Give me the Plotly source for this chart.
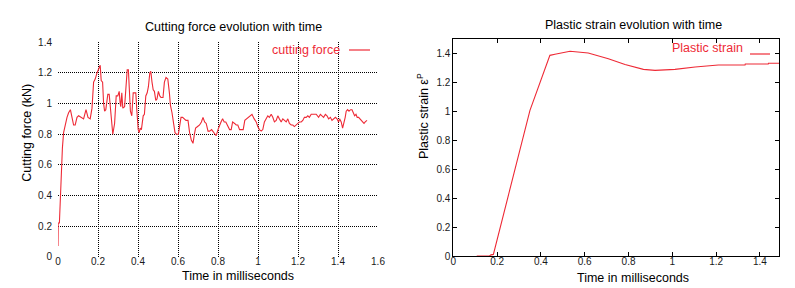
import plotly.graph_objects as go

# ---------------- data ----------------
force_t = [0, 0.001, 0.007, 0.012, 0.017, 0.022, 0.028, 0.037, 0.045, 0.053, 0.062, 0.070, 0.078, 0.086,
           0.095, 0.103, 0.116, 0.128, 0.140, 0.150, 0.161, 0.170, 0.178, 0.186, 0.195, 0.203, 0.211, 0.216,
           0.223, 0.228, 0.233, 0.239, 0.249, 0.256, 0.263, 0.269, 0.274, 0.283, 0.291, 0.299, 0.306, 0.311,
           0.314, 0.319, 0.324, 0.333, 0.341, 0.346, 0.352, 0.357, 0.362, 0.369, 0.376, 0.382, 0.389, 0.394,
           0.401, 0.406, 0.411, 0.417, 0.426, 0.432, 0.439, 0.446, 0.452, 0.459, 0.464, 0.470, 0.476, 0.482,
           0.489, 0.495, 0.502, 0.509, 0.515, 0.525, 0.532, 0.540, 0.549, 0.557, 0.562, 0.570, 0.579, 0.585,
           0.592, 0.602, 0.608, 0.615, 0.623, 0.632, 0.640,
           0.650, 0.658, 0.667, 0.675, 0.682, 0.688, 0.698, 0.708, 0.717, 0.725, 0.733, 0.741, 0.750, 0.758,
           0.768, 0.775, 0.785, 0.791, 0.800, 0.808, 0.815, 0.823, 0.831, 0.839, 0.849, 0.858, 0.866, 0.873,
           0.883, 0.891, 0.899, 0.908, 0.918, 0.926, 0.934, 0.944, 0.954, 0.962, 0.970,
           0.981, 0.991, 0.999, 1.007, 1.016, 1.024, 1.032, 1.041, 1.049, 1.057, 1.066, 1.074, 1.082, 1.091,
           1.099, 1.107, 1.116, 1.124, 1.132, 1.141, 1.149, 1.157, 1.166, 1.174, 1.182, 1.191, 1.199, 1.207,
           1.216, 1.224, 1.232, 1.241, 1.249, 1.257, 1.266, 1.274, 1.291,
           1.303, 1.312, 1.320, 1.328, 1.337, 1.345, 1.353, 1.362, 1.370, 1.378, 1.387, 1.395, 1.403, 1.408,
           1.416, 1.423, 1.430, 1.436, 1.441, 1.448, 1.455, 1.463, 1.470, 1.476, 1.483, 1.490, 1.496, 1.503,
           1.510, 1.516, 1.523, 1.530, 1.536, 1.545]
force_v = [0.07, 0.22, 0.22, 0.39, 0.61, 0.71, 0.81, 0.87, 0.91, 0.94, 0.96, 0.91, 0.86, 0.86,
           0.91, 0.92, 0.91, 0.90, 0.96, 0.91, 0.90, 0.97, 1.14, 1.16, 1.20, 1.22, 1.25, 1.15,
           1.14, 1.00, 0.95, 0.96, 1.06, 1.06, 0.94, 0.90, 0.80, 0.87, 1.05, 1.05, 1.08, 1.00,
           0.98, 1.07, 0.97, 0.98, 1.14, 1.22, 1.22, 1.05, 0.95, 0.92, 1.07, 1.07, 1.07, 0.96,
           0.83, 0.81, 0.84, 0.83, 0.92, 0.93, 1.05, 1.07, 1.11, 1.20, 1.21, 1.14, 1.09, 1.08,
           1.02, 1.03, 1.08, 1.05, 1.04, 1.04, 1.14, 1.17, 1.16, 1.07, 0.99, 0.94, 0.85, 0.81,
           0.80, 0.80, 0.85, 0.91, 0.91, 0.90, 0.89,
           0.89, 0.81, 0.76, 0.74, 0.80, 0.84, 0.85, 0.86, 0.88, 0.91, 0.88, 0.87, 0.82, 0.82,
           0.83, 0.82, 0.80, 0.79, 0.83, 0.86, 0.88, 0.90, 0.88, 0.88, 0.85, 0.83, 0.83, 0.88,
           0.87, 0.86, 0.86, 0.83, 0.83, 0.83, 0.89, 0.90, 0.91, 0.92, 0.93,
           0.90, 0.88, 0.85, 0.83, 0.82, 0.83, 0.88, 0.90, 0.92, 0.91, 0.93, 0.91, 0.88, 0.89,
           0.92, 0.90, 0.88, 0.90, 0.89, 0.88, 0.90, 0.87, 0.86, 0.86, 0.85, 0.86, 0.87, 0.88,
           0.88, 0.89, 0.91, 0.91, 0.92, 0.91, 0.93, 0.93, 0.93,
           0.91, 0.93, 0.92, 0.91, 0.93, 0.92, 0.90, 0.91, 0.89, 0.90, 0.91, 0.90, 0.88, 0.90,
           0.88, 0.84, 0.87, 0.91, 0.95, 0.96, 0.95, 0.96, 0.96, 0.94, 0.92, 0.93, 0.91, 0.91,
           0.90, 0.89, 0.88, 0.87, 0.88, 0.89]

strain_t = [0.107, 0.165, 0.172, 0.183, 0.350, 0.441, 0.464, 0.533, 0.616, 0.708, 0.784, 0.868,
            0.921, 1.012, 1.104, 1.210, 1.332, 1.333, 1.438, 1.439, 1.487]
strain_v = [0.0, 0.0, 0.008, 0.011, 1.008, 1.389, 1.396, 1.417, 1.405, 1.366, 1.325, 1.292,
            1.285, 1.292, 1.308, 1.322, 1.322, 1.329, 1.329, 1.334, 1.334]

left_ticks_x = [0, 0.2, 0.4, 0.6, 0.8, 1.0, 1.2, 1.4, 1.6]
left_ticklabels_x = ["0", "0.2", "0.4", "0.6", "0.8", "1", "1.2", "1.4", "1.6"]
left_ticks_y = [0, 0.2, 0.4, 0.6, 0.8, 1.0, 1.2, 1.4]
left_ticklabels_y = ["0", "0.2", "0.4", "0.6", "0.8", "1", "1.2", "1.4"]
right_ticks_x = [0, 0.2, 0.4, 0.6, 0.8, 1.0, 1.2, 1.4]
right_ticklabels_x = ["0", "0.2", "0.4", "0.6", "0.8", "1", "1.2", "1.4"]
right_ticks_y = [0, 0.2, 0.4, 0.6, 0.8, 1.0, 1.2, 1.4]
right_ticklabels_y = ["0", "0.2", "0.4", "0.6", "0.8", "1", "1.2", "1.4"]

# ---------------- style ----------------
FONT = "Liberation Sans, Arial, sans-serif"
RED = "#ee2a36"
TICKC = "#1a1a1a"
W, H = 795, 288

def px_x(p):
    return p / W

def px_y(p):
    return (H - p) / H

fig = go.Figure()
fig.add_trace(go.Scatter(x=force_t, y=force_v, mode="lines", line=dict(color=RED, width=1.1),
                         xaxis="x", yaxis="y", showlegend=False))
fig.add_trace(go.Scatter(x=strain_t, y=strain_v, mode="lines", line=dict(color=RED, width=1.1),
                         xaxis="x2", yaxis="y2", showlegend=False))

grid_common = dict(showgrid=True, gridcolor="black", gridwidth=1, griddash="1px,1px",
                   zeroline=False, showline=False, automargin=False,
                   tickfont=dict(family=FONT, size=10, color=TICKC))
box_common = dict(showgrid=False, zeroline=False, automargin=False,
                  showline=True, linecolor="black", linewidth=1, mirror="ticks",
                  ticks="inside", ticklen=4, tickcolor="black",
                  tickfont=dict(family=FONT, size=10, color=TICKC))

fig.update_layout(
    width=W, height=H, margin=dict(l=0, r=0, t=0, b=0, autoexpand=False),
    paper_bgcolor="white", plot_bgcolor="white",
    font=dict(family=FONT, size=12, color="black"),
    xaxis=dict(domain=[px_x(58), px_x(378)], range=[0, 1.6], tickvals=left_ticks_x,
               ticktext=left_ticklabels_x, anchor="y", ticks="", ticklabelstandoff=-3,
               **grid_common),
    yaxis=dict(domain=[px_y(256.7), px_y(42.3)], range=[0, 1.4], tickvals=left_ticks_y,
               ticktext=left_ticklabels_y, anchor="x", ticks="outside", ticklen=3,
               tickcolor="rgba(0,0,0,0)", **grid_common),
    xaxis2=dict(domain=[px_x(453.3), px_x(779)], range=[0, 1.487], tickvals=right_ticks_x,
                ticktext=right_ticklabels_x, anchor="y2", ticklabelstandoff=-4, **box_common),
    yaxis2=dict(domain=[px_y(256), px_y(39.3)], range=[0, 1.5], tickvals=right_ticks_y,
                ticktext=right_ticklabels_y, anchor="x2", **box_common),
)

ann = [
    dict(text="Cutting force evolution with time", x=px_x(233.7), y=px_y(27.3)),
    dict(text="Plastic strain evolution with time", x=px_x(633), y=px_y(25.3)),
    dict(text="Time in milliseconds", x=px_x(238), y=px_y(276)),
    dict(text="Time in milliseconds", x=px_x(633), y=px_y(278)),
    dict(text="Cutting force (kN)", x=px_x(26.7), y=px_y(133), textangle=-90),
    dict(text="Plastic strain ε<sup>P</sup>", x=px_x(423), y=px_y(116), textangle=-90),
]
for a in ann:
    fig.add_annotation(xref="paper", yref="paper", showarrow=False, xanchor="center",
                       yanchor="middle", font=dict(family=FONT, size=12.5, color="black"), **a)

# legend-like labels (text + sample line)
fig.add_annotation(xref="paper", yref="paper", showarrow=False, text="cutting force",
                   x=px_x(342), y=px_y(50), xanchor="right", yanchor="middle",
                   font=dict(family=FONT, size=12.5, color=RED))
fig.add_shape(type="line", xref="paper", yref="paper", x0=px_x(349), x1=px_x(370),
              y0=px_y(50), y1=px_y(50), line=dict(color=RED, width=1.2))
fig.add_annotation(xref="paper", yref="paper", showarrow=False, text="Plastic strain",
                   x=px_x(745), y=px_y(48), xanchor="right", yanchor="middle",
                   font=dict(family=FONT, size=12.5, color=RED))
fig.add_shape(type="line", xref="paper", yref="paper", x0=px_x(750), x1=px_x(770),
              y0=px_y(54), y1=px_y(54), line=dict(color=RED, width=1.2))

fig.write_html("out.html")
